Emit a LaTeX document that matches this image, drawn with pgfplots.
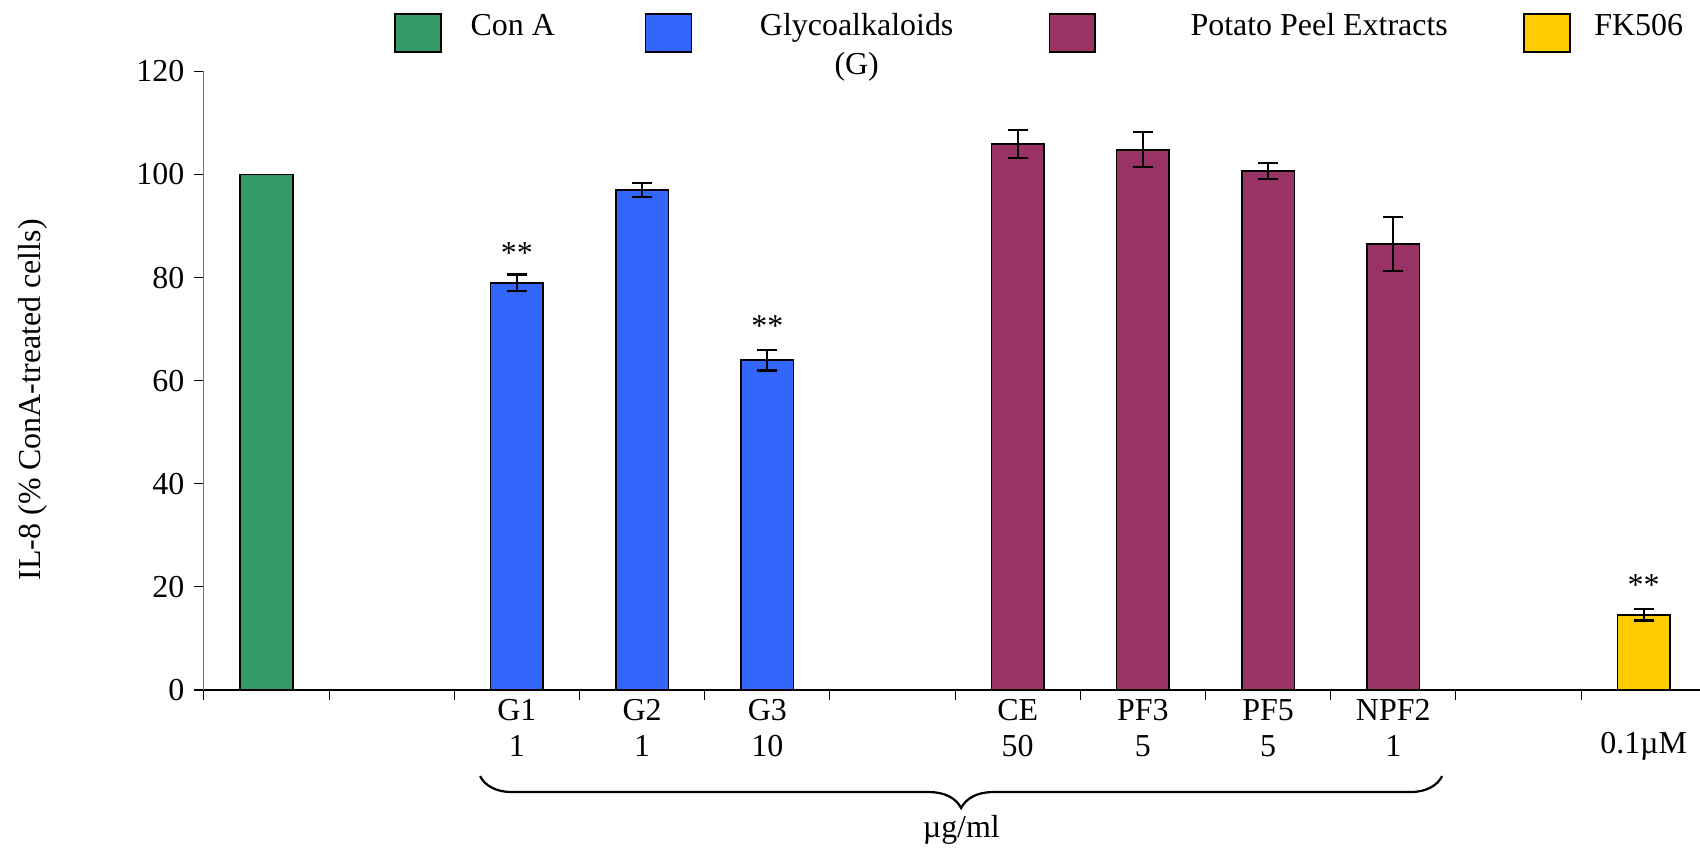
\documentclass[border=0pt]{standalone}
\usepackage{fontspec}
\setmainfont{Liberation Serif}
\usepackage{pgfplots}
\pgfplotsset{compat=1.18}
\usetikzlibrary{decorations.pathreplacing}
\definecolor{cgreen}{RGB}{51,153,102}
\definecolor{cblue}{RGB}{51,102,255}
\definecolor{cmaroon}{RGB}{153,51,102}
\definecolor{cyellow}{RGB}{255,204,0}
\begin{document}
\begin{tikzpicture}
\begin{axis}[
  name=ax,
  scale only axis,
  width=538.6pt, height=222.7pt,
  xmin=-0.5, xmax=11.45, ymin=0, ymax=120,
  axis x line=bottom, axis y line=left,
  x axis line style={-, black, line width=0.6pt},
  y axis line style={-, black!55, line width=0.4pt},
  clip=false,
  font=\fontsize{11.5}{13.8}\selectfont,
  /pgf/number format/assume math mode=true,
  ytick={0,20,...,120},
  xtick={-0.5,0.5,...,10.5},
  xticklabels={},
  extra x ticks={2,3,4,6,7,8,9,11},
  extra x tick labels={{G1\\1},{G2\\1},{G3\\10},{CE\\50},{PF3\\5},{PF5\\5},{NPF2\\1},{\rule{0pt}{7.6pt}\\[-1.1pt]0.1µM}},
  extra x tick style={major tick length=0pt},
  xticklabel style={align=center, font=\fontsize{11.5}{12.9}\selectfont},
  major tick length=3.5pt, tick align=outside,
  tick style={black, line width=0.4pt},
  ylabel={IL-8 (\% ConA-treated cells)},
  every axis y label/.style={at={([xshift=-61.7pt]axis description cs:0,0.469)}, rotate=90, anchor=center},
  legend columns=4,
  legend image code/.code={\draw[#1] (0pt,-5.8pt) rectangle (16.5pt,7.9pt);},
  legend style={draw=none, fill=none, inner sep=0pt, outer sep=0pt, column sep=0pt, row sep=0pt,
    cells={anchor=base west}, nodes={inner sep=0pt},
    at={(axis description cs:0.1272,1.1009)}, anchor=north west},
  bar width=0.42,
]
\addlegendimage{fill=cgreen, draw=black, line width=0.6pt}
\addlegendentry{\makebox[73.1pt][l]{\hspace*{25.6pt}\makebox[0pt][c]{Con A}}}
\addlegendimage{fill=cblue, draw=black, line width=0.6pt}
\addlegendentry{\makebox[128.3pt][l]{\hspace*{59.2pt}\makebox[0pt][c]{\begin{tabular}[t]{@{}c@{}}Glycoalkaloids\\(G)\end{tabular}}}}
\addlegendimage{fill=cmaroon, draw=black, line width=0.6pt}
\addlegendentry{\makebox[153.7pt][l]{\hspace*{80.3pt}\makebox[0pt][c]{Potato Peel Extracts}}}
\addlegendimage{fill=cyellow, draw=black, line width=0.6pt}
\addlegendentry{\makebox[49pt][l]{\hspace*{24.5pt}\makebox[0pt][c]{FK506}}}

\addplot[ybar, bar shift=0pt, fill=cgreen, draw=black, line width=0.6pt, forget plot]
  coordinates {(0,100)};

\addplot[ybar, bar shift=0pt, fill=cblue, draw=black, line width=0.6pt, forget plot,
  error bars/.cd, y dir=both, y explicit,
  error bar style={black, line width=0.8pt},
  error mark options={rotate=90, mark size=3.6pt, line width=0.8pt, black}]
  table[x=x, y=y, y error=e] {
x y e
2 79.0 1.6
3 97.0 1.3
4 64.0 2.0
};

\addplot[ybar, bar shift=0pt, fill=cmaroon, draw=black, line width=0.6pt, forget plot,
  error bars/.cd, y dir=both, y explicit,
  error bar style={black, line width=0.8pt},
  error mark options={rotate=90, mark size=3.6pt, line width=0.8pt, black}]
  table[x=x, y=y, y error=e] {
x y e
6 105.9 2.7
7 104.8 3.4
8 100.7 1.6
9 86.5 5.2
};

\addplot[ybar, bar shift=0pt, fill=cyellow, draw=black, line width=0.6pt, forget plot,
  error bars/.cd, y dir=both, y explicit,
  error bar style={black, line width=0.8pt},
  error mark options={rotate=90, mark size=3.6pt, line width=0.8pt, black}]
  table[x=x, y=y, y error=e] {
x y e
11 14.6 1.1
};

\node[anchor=base] at (axis cs:2,82.8) {**};
\node[anchor=base] at (axis cs:4,68.6) {**};
\node[anchor=base] at (axis cs:11,18.4) {**};
\draw[decorate, decoration={brace, amplitude=11.5pt}, line width=0.8pt]
  (axis cs:9.39,-16.7) -- (axis cs:1.706,-16.7);
\node at (axis cs:5.55,-27.2) {µg/ml};
\end{axis}
\pgfresetboundingbox
\path[use as bounding box] ([xshift=-73.4pt,yshift=-57.2pt]ax.south west) rectangle ([yshift=25.7pt]ax.north east);
\end{tikzpicture}
\end{document}
